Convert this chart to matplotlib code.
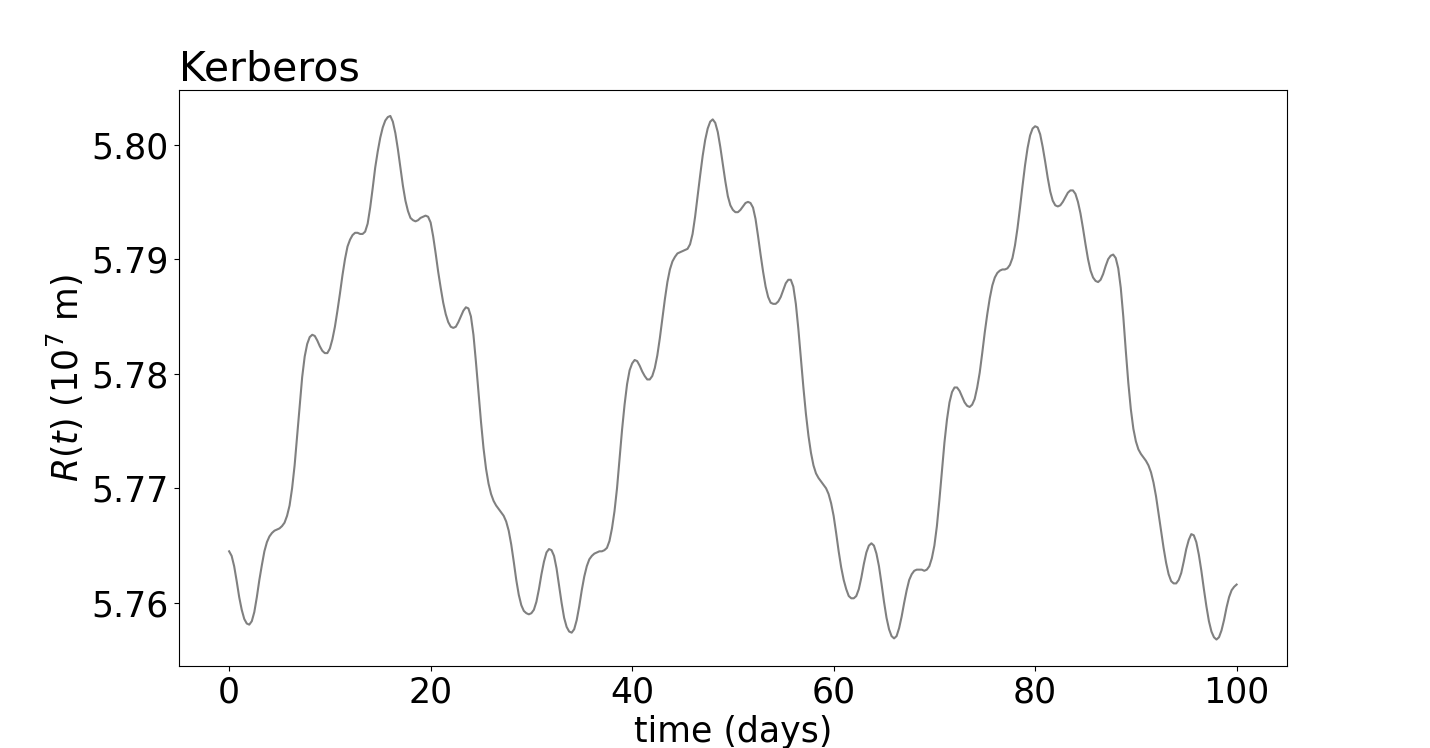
import matplotlib
matplotlib.use("Agg")
import matplotlib.pyplot as plt
import numpy as np

title = "Kerberos"
x_label = "time (days)"
y_label = r"$R(t)$ (10$^7$ m)"

# readings every 0.25 day, one row per day
radius_1e7m = [
    5.7645, 5.7641, 5.7632, 5.7619,
    5.7605, 5.7594, 5.7586, 5.7582,
    5.7581, 5.7584, 5.7592, 5.7605,
    5.7620, 5.7633, 5.7645, 5.7653,
    5.7658, 5.7661, 5.7663, 5.7664,
    5.7665, 5.7667, 5.7670, 5.7676,
    5.7685, 5.7700, 5.7720, 5.7746,
    5.7773, 5.7797, 5.7815, 5.7826,
    5.7832, 5.7834, 5.7833, 5.7829,
    5.7824, 5.7820, 5.7818, 5.7818,
    5.7822, 5.7830, 5.7841, 5.7855,
    5.7870, 5.7886, 5.7900, 5.7911,
    5.7917, 5.7921, 5.7923, 5.7923,
    5.7922, 5.7922, 5.7924, 5.7931,
    5.7945, 5.7962, 5.7980, 5.7994,
    5.8006, 5.8015, 5.8021, 5.8024,
    5.8025, 5.8020, 5.8010, 5.7996,
    5.7980, 5.7964, 5.7951, 5.7942,
    5.7936, 5.7934, 5.7933, 5.7934,
    5.7936, 5.7937, 5.7938, 5.7937,
    5.7932, 5.7920, 5.7905, 5.7889,
    5.7875, 5.7862, 5.7852, 5.7845,
    5.7841, 5.7840, 5.7841, 5.7845,
    5.7850, 5.7855, 5.7858, 5.7857,
    5.7850, 5.7834, 5.7810, 5.7784,
    5.7758, 5.7735, 5.7717, 5.7704,
    5.7695, 5.7689, 5.7685, 5.7682,
    5.7679, 5.7676, 5.7671, 5.7663,
    5.7651, 5.7636, 5.7620, 5.7607,
    5.7598, 5.7593, 5.7591, 5.7590,
    5.7591, 5.7594, 5.7601, 5.7612,
    5.7625, 5.7636, 5.7644, 5.7647,
    5.7646, 5.7641, 5.7630, 5.7615,
    5.7600, 5.7587, 5.7579, 5.7575,
    5.7574, 5.7577, 5.7585, 5.7597,
    5.7611, 5.7623, 5.7632, 5.7638,
    5.7641, 5.7643, 5.7644, 5.7645,
    5.7645, 5.7646, 5.7648, 5.7654,
    5.7665, 5.7680, 5.7700, 5.7725,
    5.7751, 5.7773, 5.7791, 5.7803,
    5.7809, 5.7812, 5.7811, 5.7807,
    5.7802, 5.7798, 5.7795, 5.7795,
    5.7798, 5.7805, 5.7816, 5.7831,
    5.7848, 5.7865, 5.7880, 5.7891,
    5.7898, 5.7902, 5.7905, 5.7906,
    5.7907, 5.7908, 5.7909, 5.7913,
    5.7922, 5.7937, 5.7955, 5.7973,
    5.7990, 5.8004, 5.8014, 5.8020,
    5.8022, 5.8019, 5.8011, 5.7998,
    5.7983, 5.7968, 5.7955, 5.7947,
    5.7943, 5.7941, 5.7941, 5.7943,
    5.7946, 5.7949, 5.7950, 5.7949,
    5.7945, 5.7935, 5.7920, 5.7904,
    5.7889, 5.7876, 5.7867, 5.7862,
    5.7861, 5.7861, 5.7863, 5.7867,
    5.7873, 5.7879, 5.7882, 5.7882,
    5.7876, 5.7861, 5.7839, 5.7813,
    5.7788, 5.7765, 5.7746, 5.7731,
    5.7720, 5.7713, 5.7709, 5.7706,
    5.7703, 5.7700, 5.7695, 5.7687,
    5.7676, 5.7661, 5.7645, 5.7631,
    5.7620, 5.7612, 5.7606, 5.7604,
    5.7604, 5.7606, 5.7612, 5.7622,
    5.7634, 5.7644, 5.7650, 5.7652,
    5.7650, 5.7643, 5.7632, 5.7617,
    5.7601, 5.7587, 5.7577, 5.7571,
    5.7569, 5.7571, 5.7578, 5.7588,
    5.7600, 5.7611, 5.7620, 5.7625,
    5.7628, 5.7629, 5.7629, 5.7629,
    5.7628, 5.7629, 5.7632, 5.7639,
    5.7650, 5.7667, 5.7690, 5.7715,
    5.7740, 5.7760, 5.7775, 5.7784,
    5.7788, 5.7788, 5.7785, 5.7780,
    5.7775, 5.7772, 5.7771, 5.7773,
    5.7778, 5.7788, 5.7801, 5.7818,
    5.7836, 5.7852, 5.7866, 5.7877,
    5.7884, 5.7888, 5.7890, 5.7891,
    5.7891, 5.7892, 5.7895, 5.7901,
    5.7912, 5.7927, 5.7945, 5.7964,
    5.7982, 5.7997, 5.8008, 5.8014,
    5.8016, 5.8015, 5.8009, 5.7998,
    5.7985, 5.7971, 5.7959, 5.7951,
    5.7947, 5.7946, 5.7947, 5.7950,
    5.7954, 5.7958, 5.7960, 5.7960,
    5.7957, 5.7950, 5.7940, 5.7927,
    5.7913, 5.7900, 5.7890, 5.7884,
    5.7881, 5.7880, 5.7882, 5.7887,
    5.7894, 5.7900, 5.7903, 5.7904,
    5.7901, 5.7892, 5.7875, 5.7850,
    5.7820, 5.7792, 5.7769, 5.7752,
    5.7741, 5.7734, 5.7730, 5.7727,
    5.7724, 5.7720, 5.7714, 5.7705,
    5.7693, 5.7678, 5.7663, 5.7648,
    5.7635, 5.7625, 5.7619, 5.7617,
    5.7617, 5.7620, 5.7626, 5.7636,
    5.7647, 5.7655, 5.7660, 5.7659,
    5.7653, 5.7642, 5.7628, 5.7612,
    5.7597, 5.7584, 5.7575, 5.7570,
    5.7568, 5.7570, 5.7576, 5.7585,
    5.7596, 5.7605, 5.7611, 5.7614,
    5.7616,
]
time_days = np.linspace(0, 100, len(radius_1e7m))
y_ticks = [5.76, 5.77, 5.78, 5.79, 5.80]

plt.rcParams['font.size'] = 25
fig, ax = plt.subplots(figsize=(14.3, 7.48), dpi=100)
ax.plot(time_days, radius_1e7m, color='gray', linewidth=1.5)
ax.set_yticks(y_ticks)
ax.set_yticklabels([f"{v:.2f}" for v in y_ticks])
ax.set_xlabel(x_label)
ax.set_ylabel(y_label)
ax.set_title(title, loc='left', fontsize=29.5)
fig.savefig("out.png", dpi=100)
